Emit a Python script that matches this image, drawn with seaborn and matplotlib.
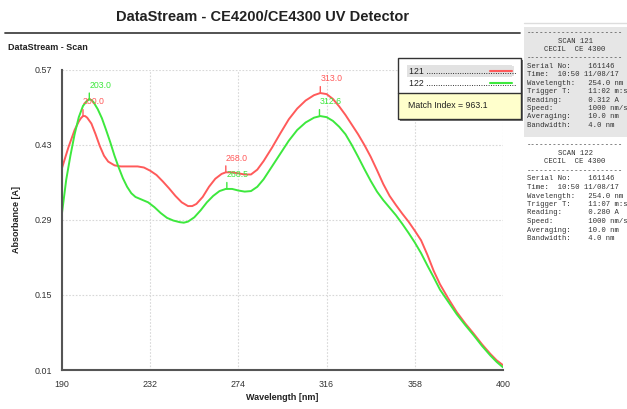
import numpy as np
import pandas as pd
import matplotlib
matplotlib.use("Agg")
import matplotlib.pyplot as plt
import seaborn as sns
from matplotlib.patches import Rectangle
from matplotlib.lines import Line2D

# ---------------- data ----------------
wl_121 = [190, 193, 196, 198, 199, 200, 201, 202, 204, 206, 208, 210, 212, 215, 218, 222, 226, 229,
          232, 235, 238, 241, 244, 247, 250, 252, 254, 257, 260, 263, 266, 268, 271, 274,
          277, 280, 283, 286, 290, 294, 298, 302, 306, 310, 313, 316, 319, 322, 325, 328,
          331, 334, 337, 340, 343, 346, 349, 352, 355, 358, 361, 364, 367, 370, 374, 378,
          382, 386, 390, 394, 397, 400]
abs_121 = [0.387, 0.425, 0.458, 0.474, 0.480, 0.484, 0.484, 0.481, 0.470, 0.450, 0.428, 0.410,
           0.399, 0.392,
           0.390, 0.390, 0.390, 0.388, 0.382, 0.374, 0.362, 0.349, 0.335, 0.323, 0.316, 0.316,
           0.320, 0.333, 0.352, 0.367, 0.376, 0.379, 0.379, 0.377, 0.375, 0.375, 0.384, 0.400,
           0.425, 0.452, 0.478, 0.498, 0.513, 0.523, 0.527, 0.525, 0.516, 0.502, 0.486, 0.468,
           0.450, 0.430, 0.408, 0.383, 0.357, 0.335, 0.318, 0.302, 0.287, 0.270, 0.252, 0.225,
           0.195, 0.170, 0.143, 0.118, 0.097, 0.078, 0.058, 0.040, 0.028, 0.019]

wl_122 = [190, 192, 194, 196, 198, 200, 202, 203, 204, 205, 207, 209, 211, 213, 215, 217, 219, 221,
          223, 225, 228, 231, 234, 237, 240, 243, 246, 248, 250, 253, 256, 259, 262, 265,
          268, 271, 274, 277, 280, 283, 286, 290, 294, 298, 302, 306, 310, 313, 316, 319,
          322, 325, 328, 331, 334, 337, 340, 343, 346, 349, 352, 355, 358, 361, 364, 367,
          370, 374, 378, 382, 386, 390, 394, 397, 400]
abs_122 = [0.303, 0.365, 0.410, 0.450, 0.482, 0.503, 0.513, 0.515, 0.514, 0.510, 0.497, 0.480,
           0.458, 0.435,
           0.410, 0.388, 0.368, 0.352, 0.340, 0.333, 0.328, 0.323, 0.314, 0.303, 0.294, 0.289,
           0.286, 0.285, 0.287, 0.295, 0.308, 0.323, 0.335, 0.344, 0.348, 0.348, 0.345, 0.343,
           0.344, 0.352, 0.366, 0.390, 0.414, 0.438, 0.458, 0.472, 0.481, 0.484, 0.482, 0.475,
           0.464, 0.450, 0.430, 0.408, 0.385, 0.363, 0.343, 0.327, 0.313, 0.299, 0.283, 0.266,
           0.248, 0.228, 0.205, 0.183, 0.160, 0.137, 0.114, 0.094, 0.075, 0.055, 0.037, 0.025,
           0.015]

peaks_121_wl = [200.0, 268.0, 313.0]
peaks_121_abs = [0.484, 0.379, 0.527]
peaks_122_wl = [203.0, 268.5, 312.6]
peaks_122_abs = [0.515, 0.348, 0.484]

x_ticks = [190, 232, 274, 316, 358, 400]
y_ticks = [0.01, 0.15, 0.29, 0.43, 0.57]
scan_names = ["121", "122"]
match_index = "963.1"

panel_121 = ["SCAN 121", "CECIL  CE 4300", "Serial No:    161146", "Time:  10:50 11/08/17",
             "Wavelength:   254.0 nm", "Trigger T:    11:02 m:s", "Reading:      0.312 A",
             "Speed:        1000 nm/s", "Averaging:    10.0 nm", "Bandwidth:    4.0 nm"]
panel_122 = ["SCAN 122", "CECIL  CE 4300", "Serial No:    161146", "Time:  10:50 11/08/17",
             "Wavelength:   254.0 nm", "Trigger T:    11:07 m:s", "Reading:      0.280 A",
             "Speed:        1000 nm/s", "Averaging:    10.0 nm", "Bandwidth:    4.0 nm"]

RED = "#ff5a5a"
GREEN = "#3de83d"

df = pd.concat([
    pd.DataFrame({"Wavelength": wl_121, "Absorbance": abs_121, "Scan": "121"}),
    pd.DataFrame({"Wavelength": wl_122, "Absorbance": abs_122, "Scan": "122"}),
])

# ---------------- figure ----------------
sns.set_theme(style="white")
plt.rcParams["font.family"] = ["Liberation Sans", "DejaVu Sans"]

W, H = 627, 409
fig = plt.figure(figsize=(W / 100, H / 100), dpi=100)
fig.patch.set_facecolor("white")

def fx(x):
    return x / W

def fy(y):
    return 1 - y / H

L, R, T, B = 62, 503, 70, 370
ax = fig.add_axes([fx(L), fy(B), (R - L) / W, (B - T) / H])

sns.lineplot(data=df, x="Wavelength", y="Absorbance", hue="Scan",
             palette={"121": RED, "122": GREEN}, linewidth=1.4, ax=ax,
             legend=False, sort=False)

ax.set_xlim(190, 400)
ax.set_ylim(0.01, 0.57)
ax.set_xticks(x_ticks)
ax.set_yticks(y_ticks)
ax.set_xticklabels([str(t) for t in x_ticks])
ax.set_yticklabels([f"{t:.2f}" for t in y_ticks])
ax.tick_params(axis="both", direction="out", length=5, width=1.5, color="#333333",
               labelsize=6.4, labelcolor="#333333", pad=2)
for s in ["top", "right"]:
    ax.spines[s].set_visible(False)
for s in ["left", "bottom"]:
    ax.spines[s].set_color("#555555")
    ax.spines[s].set_linewidth(1.5)
ax.grid(True, linestyle=(0, (1.5, 1.5)), color="#d8d8d8", linewidth=0.8)
ax.set_axisbelow(True)
ax.set_xlabel("Wavelength [nm]", fontsize=6.5, fontweight="bold", color="#222222", labelpad=3)
ax.set_ylabel("Absorbance [A]", fontsize=6.5, fontweight="bold", color="#222222", labelpad=10)

for wls, vals, c in [(peaks_121_wl, peaks_121_abs, RED), (peaks_122_wl, peaks_122_abs, GREEN)]:
    for w, v in zip(wls, vals):
        ax.annotate(f"{w:.1f}", xy=(w, v), xytext=(0, 7), textcoords="offset points",
                    ha="left", va="bottom", fontsize=6.3, color=c,
                    arrowprops=dict(arrowstyle="-", color=c, lw=1.0, shrinkA=0, shrinkB=0,
                                    relpos=(0, 0)))

# ---------------- header ----------------
fig.text(fx(263), fy(17), "DataStream - CE4200/CE4300 UV Detector", ha="center", va="center",
         fontsize=10.5, fontweight="bold", color="#222222")
fig.add_artist(Line2D([fx(5), fx(520)], [fy(33), fy(33)], color="#444444", lw=1.3))
fig.text(fx(8), fy(47), "DataStream - Scan", ha="left", va="center", fontsize=6.5,
         fontweight="bold", color="#222222")

# ---------------- legend box ----------------
bx0, bx1, by0, by1, bmid = 398, 521, 58, 119, 93
fig.add_artist(Rectangle((fx(bx0 + 2), fy(by1 + 2)), (bx1 - bx0) / W, (by1 - by0) / H,
                         facecolor="#777777", edgecolor="none"))
fig.add_artist(Rectangle((fx(bx0), fy(bmid)), (bx1 - bx0) / W, (bmid - by0) / H,
                         facecolor="white", edgecolor="none"))
fig.add_artist(Rectangle((fx(bx0), fy(by1)), (bx1 - bx0) / W, (by1 - bmid) / H,
                         facecolor="#ffffcc", edgecolor="none"))
fig.add_artist(Rectangle((fx(bx0), fy(by1)), (bx1 - bx0) / W, (by1 - by0) / H,
                         facecolor="none", edgecolor="#333333", lw=1.0))
fig.add_artist(Line2D([fx(bx0), fx(bx1)], [fy(bmid), fy(bmid)], color="#333333", lw=1.0))
fig.add_artist(Rectangle((fx(407), fy(77)), 105 / W, 12 / H, facecolor="#e2e2e2",
                         edgecolor="none"))
for name, yy, c in [(scan_names[0], 71, RED), (scan_names[1], 83, GREEN)]:
    fig.text(fx(409), fy(yy), name + " " + "." * 38, ha="left", va="center", fontsize=6.3,
             color="#222222", clip_on=False)
    fig.add_artist(Rectangle((fx(486), fy(yy + 5)), 28 / W, 10 / H,
                             facecolor="#e2e2e2" if yy == 71 else "white", edgecolor="none"))
    fig.add_artist(Line2D([fx(490), fx(512)], [fy(yy), fy(yy)], color=c, lw=1.5))
fig.text(fx(408), fy(106), f"Match Index = {match_index}", ha="left", va="center",
         fontsize=6.3, color="#222222")

# ---------------- right info panels ----------------
fig.add_artist(Line2D([fx(524), fx(627)], [fy(23), fy(23)], color="#dddddd", lw=1.0))
fig.add_artist(Rectangle((fx(524), fy(137)), 103 / W, 110 / H, facecolor="#e6e6e6",
                         edgecolor="none"))
mono = dict(fontsize=5.2, color="#333333", family=["Liberation Mono", "DejaVu Sans Mono"],
            va="center")

def panel(lines, y0, step):
    x0 = 527
    dash = "-" * 22
    fig.text(fx(x0), fy(y0), dash, ha="left", **mono)
    fig.text(fx(575), fy(y0 + step), lines[0], ha="center", **mono)
    fig.text(fx(575), fy(y0 + 2 * step), lines[1], ha="center", **mono)
    fig.text(fx(x0), fy(y0 + 3 * step), dash, ha="left", **mono)
    for i, ln in enumerate(lines[2:]):
        fig.text(fx(x0), fy(y0 + (4 + i) * step), ln, ha="left", **mono)

panel(panel_121, 33, 8.4)
panel(panel_122, 145, 8.5)

fig.savefig("out.png", dpi=100)
